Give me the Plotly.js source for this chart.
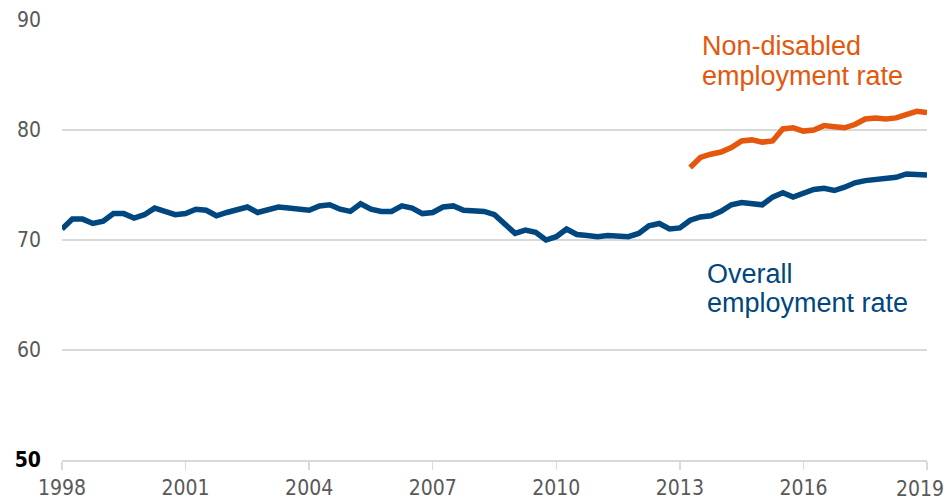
<!DOCTYPE html>
<html>
<head>
<meta charset="utf-8">
<script src="https://cdn.plot.ly/plotly-3.0.1.min.js"></script>
<style>
  html, body { margin: 0; padding: 0; background: #ffffff; }
  #chart { width: 948px; height: 501px; }
</style>
</head>
<body>
<div id="chart"></div>
<script>
// Quarterly employment rates (%), 1998 Q1 to 2019 Q1
const overallStart = 1998;
const overallRate = [
  71.0, 71.9, 71.9, 71.5, 71.7, 72.4, 72.4, 72.0, 72.3, 72.9,
  72.6, 72.3, 72.4, 72.8, 72.7, 72.2, 72.5, 72.8, 73.0, 72.5,
  72.7, 73.0, 72.9, 72.8, 72.7, 73.1, 73.2, 72.8, 72.6, 73.3,
  72.8, 72.6, 72.6, 73.1, 72.9, 72.4, 72.5, 73.0, 73.1, 72.7,
  72.6, 72.6, 72.3, 71.5, 70.6, 70.9, 70.7, 70.0, 70.3, 71.0,
  70.5, 70.4, 70.3, 70.4, 70.4, 70.3, 70.6, 71.3, 71.5, 71.0,
  71.1, 71.8, 72.1, 72.2, 72.6, 73.2, 73.4, 73.3, 73.2, 73.9,
  74.3, 73.9, 74.2, 74.6, 74.7, 74.5, 74.8, 75.2, 75.4, 75.5,
  75.5, 75.7, 76.0, 76.0, 75.9
];
const nonDisabledStart = 2013.25;
const nonDisabledRate = [
  76.6, 77.5, 77.8, 78.0, 78.4, 79.0, 79.1, 78.9, 79.0, 80.1,
  80.2, 79.9, 80.0, 80.4, 80.3, 80.2, 80.5, 81.0, 81.1, 81.0,
  81.1, 81.4, 81.7, 81.6
];
const xTickVals = [1998, 2001, 2004, 2007, 2010, 2013, 2016, 2019];
const xTickText = ["1998", "2001", "2004", "2007", "2010", "2013", "2016", "2019"];
const yTickVals = [50, 60, 70, 80, 90];
const yTickText = ["<span style='color:#000000'><b>50</b></span>", "60", "70", "80", "90"];
const labelNonDisabled = ["Non-disabled", "employment rate"];
const labelOverall = ["Overall", "employment rate"];

const quarters = (start, n) => Array.from({length: n}, (_, i) => start + i * 0.25);

const blue = "#00467F";
const orange = "#E4570C";
const tickFont = {family: "DejaVu Sans Condensed, Liberation Sans Narrow, Arial, sans-serif", size: 21, color: "#595959"};
const labelFont = (c) => ({family: "Liberation Sans, Arial, sans-serif", size: 27, color: c});

// the last tick label sits flush with the right edge, so it is drawn as an annotation
const lastIdx = xTickVals.length - 1;
const axisTickText = xTickText.map((t, i) => (i === lastIdx ? "" : t));

const data = [
  {
    x: quarters(overallStart, overallRate.length),
    y: overallRate,
    type: "scatter", mode: "lines",
    line: {color: blue, width: 5.5},
    hoverinfo: "skip"
  },
  {
    x: quarters(nonDisabledStart, nonDisabledRate.length),
    y: nonDisabledRate,
    type: "scatter", mode: "lines",
    line: {color: orange, width: 5.5},
    hoverinfo: "skip"
  }
];

function lineLabel(text, x, y, color) {
  return {
    x: x, y: y, xref: "x", yref: "y",
    xanchor: "left", yanchor: "middle", align: "left",
    text: text, showarrow: false, font: labelFont(color)
  };
}

const layout = {
  width: 948, height: 501,
  margin: {l: 62, r: 21, t: 20, b: 41},
  paper_bgcolor: "#ffffff", plot_bgcolor: "#ffffff",
  showlegend: false,
  xaxis: {
    range: [1998, 2019],
    tickvals: xTickVals, ticktext: axisTickText,
    showgrid: false, zeroline: false,
    showline: true, linecolor: "#d9d9d9", linewidth: 1.5,
    ticks: "outside", ticklen: 8, tickcolor: "#d9d9d9", tickwidth: 1.5,
    tickfont: tickFont
  },
  yaxis: {
    range: [50, 90],
    tickvals: yTickVals, ticktext: yTickText,
    showgrid: true, gridcolor: "#d9d9d9", gridwidth: 1.5,
    zeroline: false, showline: false, ticks: "",
    ticklabelstandoff: 20,
    tickfont: tickFont
  },
  annotations: [
    lineLabel(labelNonDisabled[0], 2013.49, 87.6, orange),
    lineLabel(labelNonDisabled[1], 2013.49, 84.95, orange),
    lineLabel(labelOverall[0], 2013.61, 66.95, blue),
    lineLabel(labelOverall[1], 2013.61, 64.27, blue),
    {
      x: xTickVals[lastIdx], xref: "x", xanchor: "right", xshift: 19,
      y: -0.066, yref: "paper", yanchor: "middle",
      text: xTickText[lastIdx], showarrow: false, font: tickFont
    }
  ]
};

Plotly.newPlot("chart", data, layout, {displayModeBar: false, staticPlot: true});
</script>
</body>
</html>
